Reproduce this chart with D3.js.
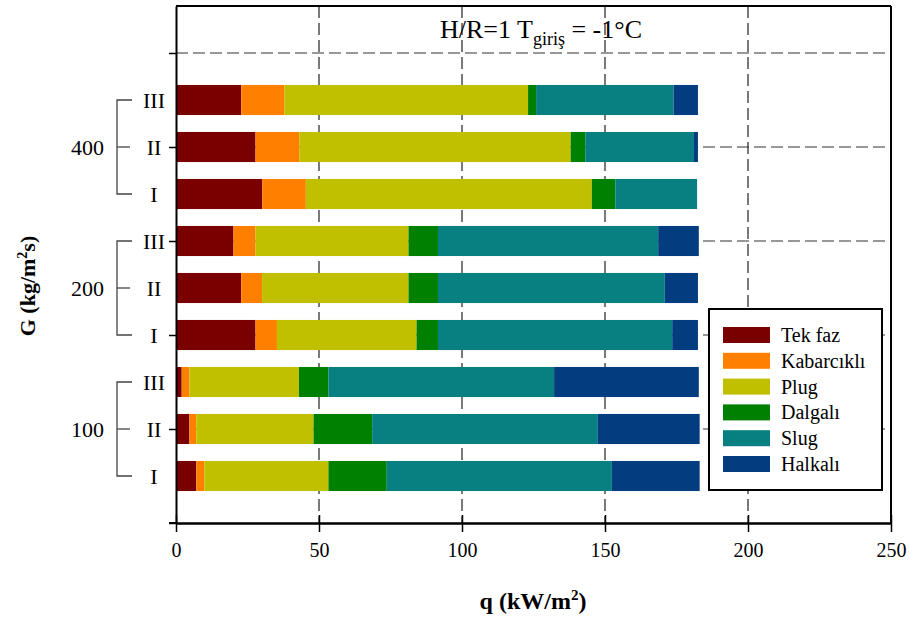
<!DOCTYPE html>
<html>
<head>
<meta charset="utf-8">
<script src="https://cdn.jsdelivr.net/npm/d3@7"></script>
<style>
  body { margin: 0; background: #fff; }
  text { font-family: "Liberation Serif", "Times New Roman", serif; }
</style>
</head>
<body>
<div id="chart"></div>
<script>
// bars from top to bottom
const groups = ["400", "200", "100"];
const levels = ["III", "II", "I"];
const phases = ["Tek faz", "Kabarcıklı", "Plug", "Dalgalı", "Slug", "Halkalı"];
const colors = ["#7a0000", "#ff8000", "#c0c000", "#008000", "#087f80", "#033d80"];

// segment lengths (kW/m2) per bar, same order as the bars
const tekFaz     = [22.8, 27.8, 30.2, 20.1, 22.8, 27.8, 2.0, 4.7, 7.1];
const kabarcikli = [15.1, 15.3, 15.2, 7.7, 7.3, 7.5, 2.7, 2.4, 2.8];
const plug       = [85.2, 94.9, 100.0, 53.5, 51.2, 48.8, 38.3, 41.0, 43.4];
const dalgali    = [2.8, 5.1, 8.2, 10.3, 10.3, 7.5, 10.3, 20.5, 20.4];
const slug       = [48.1, 38.0, 28.6, 77.0, 79.3, 81.9, 78.9, 78.9, 78.7];
const halkali    = [8.5, 1.4, 0, 14.2, 11.6, 9.0, 50.6, 35.6, 30.7];

const xTicks = [0, 50, 100, 150, 200, 250];
const yTicks = [0, 2, 4, 6, 8, 10];

const series = [tekFaz, kabarcikli, plug, dalgali, slug, halkali];
const rows = [];
groups.forEach((g, gi) => {
  levels.forEach((l, li) => {
    const i = gi * 3 + li;
    const row = { group: g, level: l, pos: 9 - i };
    phases.forEach((p, pi) => row[p] = series[pi][i]);
    rows.push(row);
  });
});

const width = 909, height = 617;
const plotLeft = 176, plotRight = 891, plotTop = 6, plotBottom = 523;

const svg = d3.select("#chart").append("svg")
  .attr("width", width)
  .attr("height", height);

const x = d3.scaleLinear().domain([0, 250]).range([plotLeft, plotRight]);
const y = d3.scaleLinear().domain([0, 11]).range([plotBottom, plotTop]);
const color = d3.scaleOrdinal().domain(phases).range(colors);

// dashed grid
svg.append("g")
  .selectAll("line")
  .data(xTicks.filter(d => d > 0 && d < 250))
  .join("line")
  .attr("x1", d => x(d)).attr("x2", d => x(d))
  .attr("y1", plotTop).attr("y2", plotBottom)
  .style("stroke", "#222")
  .style("stroke-width", 1.2)
  .style("stroke-dasharray", "12,5");

svg.append("g")
  .selectAll("line")
  .data(yTicks.filter(d => d > 0))
  .join("line")
  .attr("x1", plotLeft).attr("x2", plotRight)
  .attr("y1", d => y(d)).attr("y2", d => y(d))
  .style("stroke", "#333")
  .style("stroke-width", 1.2)
  .style("stroke-dasharray", "12,5");

// stacked bars
const stack = d3.stack().keys(phases);
const stacked = stack(rows);
const barH = y(0) - y(0.64);

svg.append("g")
  .selectAll("g")
  .data(stacked)
  .join("g")
  .attr("fill", d => color(d.key))
  .selectAll("rect")
  .data(d => d.filter(s => s[1] > s[0]))
  .join("rect")
  .attr("x", d => x(d[0]))
  .attr("width", d => x(d[1]) - x(d[0]))
  .attr("y", d => y(d.data.pos) - barH / 2)
  .attr("height", barH);

// frame
svg.append("line")
  .attr("x1", plotLeft).attr("x2", plotRight).attr("y1", plotTop).attr("y2", plotTop)
  .style("stroke", "#000").style("stroke-width", 2);
svg.append("line")
  .attr("x1", plotRight).attr("x2", plotRight).attr("y1", plotTop).attr("y2", plotBottom)
  .style("stroke", "#000").style("stroke-width", 2);

// axes
const xAxis = svg.append("g")
  .attr("transform", `translate(0,${plotBottom})`)
  .call(d3.axisBottom(x).tickValues(xTicks).tickSize(9).tickSizeOuter(0).tickPadding(11));
svg.append("g")
  .attr("transform", `translate(0,${plotBottom})`)
  .call(d3.axisTop(x).tickValues(xTicks).tickSize(8).tickSizeOuter(0).tickFormat(""));
svg.append("line")
  .attr("x1", plotLeft - 7).attr("x2", plotLeft).attr("y1", plotBottom).attr("y2", plotBottom)
  .style("stroke", "#000").style("stroke-width", 2);
xAxis.selectAll("text")
  .style("font-size", "20px")
  .style("font-family", "Liberation Serif, serif")
  .attr("fill", "#000");

svg.append("g")
  .attr("transform", `translate(${plotLeft},0)`)
  .call(d3.axisLeft(y).tickValues(yTicks).tickSize(7).tickSizeOuter(0).tickFormat(""));

svg.selectAll(".domain").style("stroke-width", 2);
svg.selectAll(".tick line").style("stroke-width", 1.5);

// level labels and brackets
svg.append("g")
  .selectAll("text")
  .data(rows)
  .join("text")
  .attr("x", 154)
  .attr("y", d => y(d.pos))
  .attr("dy", "0.35em")
  .style("text-anchor", "middle")
  .style("font-size", "22px")
  .text(d => d.level);

groups.forEach(g => {
  const gRows = rows.filter(r => r.group === g);
  const yTop = y(d3.max(gRows, r => r.pos));
  const yBot = y(d3.min(gRows, r => r.pos));
  const yMid = (yTop + yBot) / 2;
  const br = svg.append("g").style("stroke", "#444").style("stroke-width", 1.3).style("fill", "none");
  br.append("path").attr("d", `M132,${yTop}H117V${yBot}H132`);
  br.append("line").attr("x1", 117).attr("x2", 130).attr("y1", yMid).attr("y2", yMid);
  svg.append("text")
    .attr("x", 104)
    .attr("y", yMid)
    .attr("dy", "0.35em")
    .style("text-anchor", "end")
    .style("font-size", "22px")
    .text(g);
});

// title
const title = svg.append("text")
  .attr("x", 541)
  .attr("y", 38)
  .style("text-anchor", "middle")
  .style("font-size", "26px");
title.append("tspan").text("H/R=1 T");
title.append("tspan").attr("dy", 7).style("font-size", "18px").text("giriş");
title.append("tspan").attr("dy", -7).text(" = -1°C");

// axis titles
const xt = svg.append("text")
  .attr("x", 533)
  .attr("y", 609)
  .style("text-anchor", "middle")
  .style("font-size", "24px")
  .style("font-weight", "bold")
  .text("q (kW/m");
xt.append("tspan").attr("dy", -9).style("font-size", "15px").text("2");
xt.append("tspan").attr("dy", 9).text(")");

const yt = svg.append("text")
  .attr("transform", `translate(35,286) rotate(-90)`)
  .style("text-anchor", "middle")
  .style("font-size", "22px")
  .style("font-weight", "bold")
  .text("G (kg/m");
yt.append("tspan").attr("dy", -8).style("font-size", "14px").text("2");
yt.append("tspan").attr("dy", 8).text("s)");

// legend
const legend = svg.append("g").attr("transform", "translate(709,309)");
legend.append("rect")
  .attr("width", 173).attr("height", 181)
  .style("fill", "#fff").style("stroke", "#000").style("stroke-width", 2);
phases.forEach((p, i) => {
  const row = legend.append("g").attr("transform", `translate(0,${26 + i * 25.8})`);
  row.append("rect")
    .attr("x", 14).attr("y", -8).attr("width", 47).attr("height", 16)
    .style("fill", color(p));
  row.append("text")
    .attr("x", 72).attr("dy", "0.35em")
    .style("font-size", "20px")
    .text(p);
});
</script>
</body>
</html>
